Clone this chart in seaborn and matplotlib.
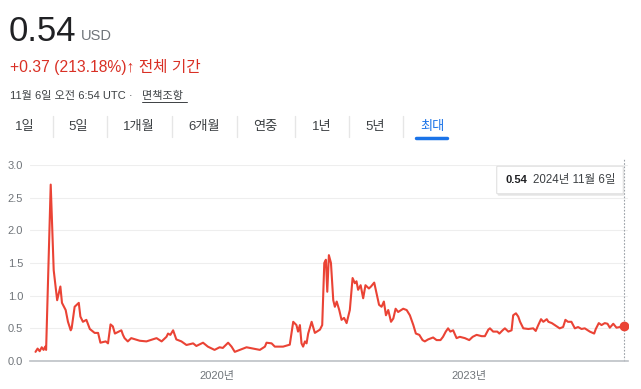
import pandas as pd
import numpy as np
import matplotlib
matplotlib.use("Agg")
import matplotlib.pyplot as plt
import matplotlib.dates as mdates
from matplotlib.patches import FancyBboxPatch
import seaborn as sns

# --- data ---
dates = [
    "2017-11-04", "2017-11-13", "2017-11-22", "2017-12-01", "2017-12-09", "2017-12-16", "2017-12-20",
    "2018-01-09", "2018-01-22", "2018-02-06", "2018-02-20", "2018-02-27", "2018-03-15", "2018-03-25",
    "2018-04-06", "2018-04-10", "2018-04-23", "2018-05-11", "2018-05-18", "2018-05-29", "2018-06-13",
    "2018-06-28", "2018-07-19", "2018-08-03", "2018-08-13", "2018-09-05", "2018-09-15", "2018-09-26",
    "2018-10-06", "2018-10-15", "2018-11-12", "2018-11-19", "2018-11-26", "2018-12-10", "2018-12-25",
    "2019-01-31", "2019-03-01", "2019-04-14", "2019-05-06", "2019-05-27", "2019-06-03", "2019-06-13",
    "2019-06-25", "2019-07-09", "2019-07-31", "2019-08-22", "2019-09-20", "2019-10-04", "2019-11-02",
    "2019-11-23", "2019-12-22", "2020-01-13", "2020-01-27", "2020-02-19", "2020-03-05", "2020-03-19",
    "2020-04-10", "2020-05-09", "2020-06-07", "2020-07-06", "2020-07-28", "2020-08-04", "2020-08-26",
    "2020-09-09", "2020-10-15", "2020-11-13", "2020-11-28", "2020-12-12", "2020-12-19", "2020-12-27",
    "2021-01-03", "2021-01-10", "2021-01-18", "2021-01-25", "2021-02-01", "2021-02-16", "2021-03-02",
    "2021-03-24", "2021-04-03", "2021-04-12", "2021-04-19", "2021-04-25", "2021-05-02", "2021-05-11",
    "2021-05-21", "2021-05-28", "2021-06-05", "2021-06-16", "2021-06-26", "2021-07-07", "2021-07-18",
    "2021-08-01", "2021-08-13", "2021-08-23", "2021-08-30", "2021-09-06", "2021-09-17", "2021-09-28",
    "2021-10-08", "2021-10-23", "2021-11-01", "2021-11-15", "2021-11-25", "2021-12-06", "2021-12-17",
    "2021-12-27", "2022-01-05", "2022-01-15", "2022-01-27", "2022-02-06", "2022-02-16", "2022-02-27",
    "2022-03-21", "2022-04-05", "2022-04-19", "2022-05-04", "2022-05-15", "2022-05-30", "2022-06-13",
    "2022-06-23", "2022-07-07", "2022-07-29", "2022-08-13", "2022-08-30", "2022-09-10", "2022-09-22",
    "2022-10-02", "2022-10-12", "2022-10-24", "2022-11-08", "2022-11-22", "2022-12-14", "2023-01-02",
    "2023-01-17", "2023-02-03", "2023-02-25", "2023-03-11", "2023-03-26", "2023-04-02", "2023-04-16",
    "2023-05-04", "2023-05-13", "2023-05-27", "2023-06-06", "2023-06-21", "2023-07-05", "2023-07-12",
    "2023-07-24", "2023-08-03", "2023-08-11", "2023-08-25", "2023-09-16", "2023-10-07", "2023-10-18",
    "2023-10-29", "2023-11-10", "2023-11-20", "2023-12-05", "2023-12-12", "2023-12-27", "2024-01-09",
    "2024-01-30", "2024-02-14", "2024-02-24", "2024-03-06", "2024-03-21", "2024-04-05", "2024-04-19",
    "2024-05-04", "2024-05-18", "2024-06-09", "2024-06-28", "2024-07-05", "2024-07-18", "2024-07-30",
    "2024-08-13", "2024-08-25", "2024-09-04", "2024-09-19", "2024-10-03", "2024-10-18", "2024-11-06",
]
prices = [
    0.14, 0.19, 0.15, 0.21, 0.17, 0.22, 0.17,
    2.70, 1.39, 0.93, 1.14, 0.89, 0.78, 0.60,
    0.47, 0.50, 0.83, 0.89, 0.68, 0.60, 0.63,
    0.49, 0.43, 0.43, 0.28, 0.30, 0.27, 0.56,
    0.53, 0.42, 0.47, 0.40, 0.35, 0.30, 0.35,
    0.31, 0.30, 0.35, 0.30, 0.37, 0.42, 0.40,
    0.47, 0.33, 0.30, 0.245, 0.27, 0.23, 0.28,
    0.22, 0.17, 0.21, 0.20, 0.28, 0.22, 0.14,
    0.17, 0.21, 0.19, 0.17, 0.22, 0.28, 0.27,
    0.22, 0.22, 0.25, 0.60, 0.55, 0.45, 0.55,
    0.27, 0.22, 0.30, 0.27, 0.42, 0.60, 0.43,
    0.48, 0.55, 1.50, 1.55, 1.06, 1.62, 1.50,
    0.93, 0.83, 0.91, 0.78, 0.63, 0.66, 0.58,
    0.78, 1.27, 1.19, 1.22, 1.09, 1.16, 0.96,
    1.16, 1.11, 1.14, 1.20, 1.04, 0.86, 0.83,
    0.91, 0.70, 0.78, 0.60, 0.65, 0.80, 0.75,
    0.80, 0.78, 0.70, 0.55, 0.42, 0.40, 0.32,
    0.30, 0.33, 0.36, 0.32, 0.32, 0.37, 0.45,
    0.50, 0.45, 0.47, 0.35, 0.37, 0.35, 0.32,
    0.37, 0.40, 0.38, 0.38, 0.48, 0.50, 0.45,
    0.45, 0.42, 0.47, 0.50, 0.45, 0.47, 0.70,
    0.73, 0.68, 0.60, 0.50, 0.49, 0.50, 0.46,
    0.55, 0.64, 0.60, 0.64, 0.60, 0.58, 0.55,
    0.50, 0.52, 0.63, 0.60, 0.60, 0.50, 0.52,
    0.49, 0.50, 0.45, 0.42, 0.49, 0.58, 0.55,
    0.58, 0.57, 0.51, 0.57, 0.51, 0.52, 0.54,
]
y_ticks = [0.0, 0.5, 1.0, 1.5, 2.0, 2.5, 3.0]
x_tick_dates = ["2020-01-01", "2023-01-01"]
x_tick_labels = ["2020년", "2023년"]
tabs = ["1일", "5일", "1개월", "6개월", "연중", "1년", "5년", "최대"]

RED = "#ea4335"
GREY = "#70757a"
DARK = "#202124"
BLUE = "#1a73e8"

df = pd.DataFrame({"date": pd.to_datetime(dates), "price": prices})

sns.set_theme(style="white")
plt.rcParams["font.family"] = ["Liberation Sans", "Noto Sans CJK KR", "DejaVu Sans"]

W, H = 641, 389
fig = plt.figure(figsize=(W / 100, H / 100), dpi=100)

def fx(px):
    return px / W

def fy(py):
    return 1 - py / H

ax = fig.add_axes([fx(30), fy(361), fx(628) - fx(30), fy(165) - fy(361)])
sns.lineplot(data=df, x="date", y="price", ax=ax, color=RED, linewidth=1.5)
ax.scatter([df["date"].iloc[-1]], [df["price"].iloc[-1]], s=36, color=RED, zorder=5)

ax.set_xlim(pd.Timestamp("2017-10-11"), pd.Timestamp("2024-11-22"))
ax.set_ylim(0, 3.0)
ax.set_yticks(y_ticks)
ax.set_yticklabels([f"{v:.1f}" for v in y_ticks])
ax.set_xticks(pd.to_datetime(x_tick_dates))
ax.set_xticklabels(x_tick_labels)
ax.set_xlabel("")
ax.set_ylabel("")
ax.grid(axis="y", color="#eeeeee", linewidth=0.8)
ax.grid(axis="x", visible=False)
for s in ["top", "right", "left"]:
    ax.spines[s].set_visible(False)
ax.spines["bottom"].set_color("#bdc1c6")
ax.spines["bottom"].set_linewidth(1.2)
ax.tick_params(axis="y", length=0, pad=5, labelsize=8, labelcolor=GREY)
ax.tick_params(axis="x", length=4, width=1, color="#bdc1c6", pad=3, labelsize=8, labelcolor=GREY)

# dotted cursor line at last point
ax.axvline(df["date"].iloc[-1], ymin=0, ymax=1.03, color="#9aa0a6", linestyle=(0, (1.5, 1.5)),
           linewidth=0.8, clip_on=False)

# tooltip box
box = FancyBboxPatch((fx(498), fy(193)), fx(622) - fx(498), fy(167) - fy(193),
                     boxstyle="round,pad=0.002", transform=fig.transFigure,
                     facecolor="white", edgecolor="#e0e0e0", linewidth=0.8, zorder=10)
shadow = FancyBboxPatch((fx(499), fy(195)), fx(622) - fx(498), fy(167) - fy(193),
                        boxstyle="round,pad=0.002", transform=fig.transFigure,
                        facecolor="#d0d0d0", edgecolor="none", alpha=0.5, zorder=9)
fig.patches.extend([shadow, box])
fig.text(fx(506), fy(180), "0.54", fontsize=8, color=DARK, fontweight="bold", va="center", zorder=11)
fig.text(fx(533), fy(180), "2024년 11월 6일", fontsize=8.3, color="#3c4043", va="center", zorder=11)

# header
fig.text(fx(9), fy(41), "0.54", fontsize=25, color=DARK, va="baseline")
fig.text(fx(81), fy(40), "USD", fontsize=10.5, color=GREY, va="baseline")
fig.text(fx(10), fy(72), "+0.37 (213.18%)\u2191 전체 기간", fontsize=11.3, color="#d93025",
         va="baseline")
fig.text(fx(10), fy(99), "11월 6일 오전 6:54 UTC · ", fontsize=8, color="#3c4043", va="baseline")
fig.text(fx(142), fy(99), "면책조항", fontsize=8, color="#3c4043", va="baseline")
fig.add_artist(plt.Line2D([fx(142), fx(187)], [fy(102), fy(102)], color="#3c4043", linewidth=0.7))

# range tabs
tab_centers = [25, 78, 139, 204, 265, 322, 375, 432]
seps = [53, 107, 172, 237, 295, 349, 403]
for label, cx in zip(tabs, tab_centers):
    fig.text(fx(cx), fy(127), label, fontsize=9.5, ha="center", va="center",
             color=BLUE if label == "최대" else "#3c4043")
for sx in seps:
    fig.add_artist(plt.Line2D([fx(sx), fx(sx)], [fy(116), fy(137)], color="#e6e6e6", linewidth=1))
fig.add_artist(plt.Line2D([fx(416), fx(447)], [fy(138), fy(138)], color=BLUE, linewidth=2.5,
                          solid_capstyle="round"))

plt.savefig("out.png", dpi=100)
plt.close()
